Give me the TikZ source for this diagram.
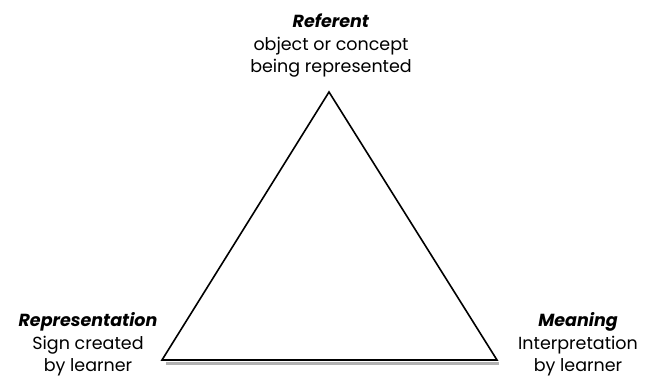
\documentclass[tikz,border=0pt]{standalone}
\usepackage{fontspec}
\setmainfont{Poppins}
\usetikzlibrary{positioning}
\tikzset{
  cornerlabel/.style={align=center, font=\fontsize{17.5}{22.5}\selectfont, inner sep=0pt},
  edge/.style={line width=1.6pt, line join=miter},
  shadowline/.style={line width=3pt, gray!60}
}

\begin{document}
\begin{tikzpicture}[x=1pt, y=-1pt]
    \useasboundingbox (0,0) rectangle (645,377);
    % Corners of the triangle
    \coordinate (apex) at (329,92);
    \coordinate (left) at (162,360);
    \coordinate (right) at (497,360);
    \coordinate (shadowL) at (166,363.5);
    \coordinate (shadowR) at (499,363.5);

    % Shadow under the base
    \draw[shadowline] (shadowL) -- (shadowR);

    % Triangle
    \draw[edge] (apex) -- (right) -- (left) -- cycle;

    % Labels (base = last line)
    \node[cornerlabel, anchor=base] (referent) at (331,73)
      {\textbf{\textit{Referent}}\\object or concept\\being represented};
    \node[cornerlabel, anchor=base] (representation) at (88,371.5)
      {\textbf{\textit{Representation}}\\Sign created\\by learner};
    \node[cornerlabel, anchor=base] (meaning) at (578,371.5)
      {\textbf{\textit{Meaning}}\\Interpretation\\by learner};
\end{tikzpicture}
\end{document}
